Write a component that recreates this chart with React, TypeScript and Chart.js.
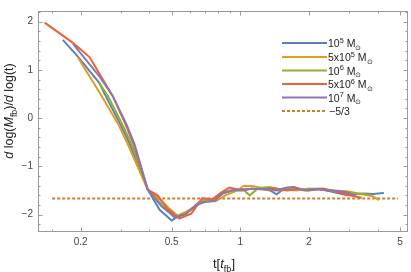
import React, { useEffect, useRef } from 'react';
import { Chart, registerables } from 'chart.js';

Chart.register(...registerables);

// ---------- data ----------
const seriesNames = ['10|5', '5x10|5', '10|6', '5x10|6', '10|7'];
const seriesColors = ['#5E81B5', '#E19C24', '#8FB032', '#EB6235', '#8778B3'];
const refColor = '#D07C2E';

const blueT = [0.167, 0.194, 0.242, 0.257, 0.299, 0.328, 0.393, 0.443, 0.5, 0.55, 0.6, 0.66, 0.74, 0.82, 0.9, 1.0, 1.1, 1.22, 1.35, 1.44, 1.55, 1.72, 1.95, 2.2, 2.5, 2.93, 3.2, 3.48, 3.8, 4.25];
const blueV = [1.62, 1.28, 0.72, 0.46, -0.14, -0.54, -1.48, -1.9, -2.12, -2.0, -1.92, -1.74, -1.72, -1.58, -1.5, -1.5, -1.47, -1.46, -1.5, -1.58, -1.47, -1.44, -1.5, -1.47, -1.52, -1.6, -1.58, -1.56, -1.57, -1.55];

const orangeT = [0.194, 0.247, 0.293, 0.321, 0.393, 0.44, 0.49, 0.53, 0.58, 0.64, 0.7, 0.78, 0.86, 0.95, 1.04, 1.15, 1.28, 1.4, 1.55, 1.75, 2.0, 2.3, 2.6, 3.0, 3.4, 3.8, 4.05];
const orangeV = [1.26, 0.46, -0.14, -0.54, -1.48, -1.66, -1.88, -2.02, -1.94, -1.82, -1.7, -1.72, -1.6, -1.52, -1.4, -1.41, -1.47, -1.5, -1.46, -1.5, -1.46, -1.48, -1.5, -1.52, -1.58, -1.62, -1.7];

const greenT = [0.24, 0.263, 0.305, 0.334, 0.393, 0.45, 0.51, 0.57, 0.63, 0.69, 0.76, 0.84, 0.93, 1.02, 1.1, 1.2, 1.35, 1.5, 1.7, 1.95, 2.2, 2.5, 2.9, 3.3, 3.6];
const greenV = [0.74, 0.46, -0.14, -0.54, -1.48, -1.78, -2.04, -2.0, -1.84, -1.7, -1.7, -1.56, -1.5, -1.47, -1.6, -1.45, -1.43, -1.5, -1.47, -1.48, -1.46, -1.5, -1.56, -1.56, -1.58];

const redT = [0.139, 0.185, 0.219, 0.276, 0.315, 0.341, 0.393, 0.434, 0.48, 0.54, 0.61, 0.68, 0.755, 0.82, 0.895, 1.02, 1.12, 1.25, 1.4, 1.6, 1.8, 2.0, 2.3, 2.6, 3.0, 3.4];
const redV = [1.98, 1.56, 1.26, 0.46, -0.14, -0.54, -1.48, -1.6, -1.88, -2.08, -1.98, -1.66, -1.68, -1.55, -1.44, -1.5, -1.46, -1.48, -1.45, -1.5, -1.47, -1.5, -1.46, -1.52, -1.6, -1.65];

const purpleT = [0.185, 0.242, 0.276, 0.318, 0.344, 0.393, 0.45, 0.52, 0.58, 0.64, 0.7, 0.77, 0.84, 0.92, 1.0, 1.1, 1.25, 1.45, 1.6, 1.72, 1.9, 2.1, 2.5, 2.9, 3.2];
const purpleV = [1.54, 0.86, 0.46, -0.14, -0.54, -1.48, -1.82, -2.06, -1.98, -1.8, -1.74, -1.72, -1.55, -1.5, -1.48, -1.47, -1.47, -1.5, -1.44, -1.43, -1.5, -1.47, -1.5, -1.53, -1.6];

const refT = [0.15, 4.9];
const refV = [-5 / 3, -5 / 3];

const xMajorTicks = [0.2, 0.5, 1, 2, 5];
const xMinorTicks = [0.15, 0.3, 0.4, 0.6, 0.7, 0.8, 0.9, 3, 4];
const yMajorTicks = [-2, -1, 0, 1, 2];
const yMinorTicks = [-2.2, -1.8, -1.6, -1.4, -1.2, -0.8, -0.6, -0.4, -0.2, 0.2, 0.4, 0.6, 0.8, 1.2, 1.4, 1.6, 1.8, 2.2];

const FAM = '"Liberation Sans", Arial, Helvetica, sans-serif';

type Seg = { t: string; it?: boolean; sub?: boolean; sup?: boolean };

function drawRich(ctx: CanvasRenderingContext2D, segs: Seg[], x: number, y: number, size: number, align: 'left' | 'center') {
  const fontFor = (s: Seg) => `${s.it ? 'italic ' : ''}${s.sub || s.sup ? size * 0.7 : size}px ${FAM}`;
  const widths = segs.map((s) => {
    ctx.font = fontFor(s);
    return ctx.measureText(s.t).width;
  });
  const total = widths.reduce((a, b) => a + b, 0);
  let cx = align === 'center' ? x - total / 2 : x;
  ctx.textBaseline = 'alphabetic';
  ctx.textAlign = 'left';
  segs.forEach((s, i) => {
    ctx.font = fontFor(s);
    const dy = s.sub ? size * 0.28 : s.sup ? -size * 0.42 : 0;
    ctx.fillText(s.t, cx, y + dy);
    cx += widths[i];
  });
}

const framePlugin = {
  id: 'frameTicks',
  beforeDatasetsDraw(chart: any) {
    const { ctx, chartArea: a, scales } = chart;
    const xs = scales.x;
    const ys = scales.y;
    ctx.save();
    ctx.strokeStyle = '#9a9a9a';
    ctx.lineWidth = 1;
    ctx.strokeRect(a.left + 0.5, a.top + 0.5, a.right - a.left - 1, a.bottom - a.top - 1);
    ctx.beginPath();
    const xt = (v: number, len: number) => {
      const px = Math.round(xs.getPixelForValue(v)) + 0.5;
      ctx.moveTo(px, a.bottom);
      ctx.lineTo(px, a.bottom - len);
      ctx.moveTo(px, a.top);
      ctx.lineTo(px, a.top + len);
    };
    const yt = (v: number, len: number) => {
      const py = Math.round(ys.getPixelForValue(v)) + 0.5;
      ctx.moveTo(a.left, py);
      ctx.lineTo(a.left + len, py);
      ctx.moveTo(a.right, py);
      ctx.lineTo(a.right - len, py);
    };
    xMajorTicks.forEach((v) => xt(v, 4.5));
    xMinorTicks.forEach((v) => xt(v, 2.5));
    yMajorTicks.forEach((v) => yt(v, 4.5));
    yMinorTicks.forEach((v) => yt(v, 2.5));
    ctx.stroke();
    ctx.restore();
  },
  afterDraw(chart: any) {
    const { ctx } = chart;
    ctx.save();
    ctx.fillStyle = '#222';
    // x title
    drawRich(ctx, [{ t: 't[' }, { t: 't', it: true }, { t: 'fb', sub: true }, { t: ']' }], 224, 268, 13, 'center');
    // y title
    ctx.save();
    ctx.translate(13, 111);
    ctx.rotate(-Math.PI / 2);
    drawRich(
      ctx,
      [{ t: 'd', it: true }, { t: ' log(' }, { t: 'M', it: true }, { t: 'fb', sub: true }, { t: ')/' }, { t: 'd', it: true }, { t: ' log(t)' }],
      0,
      0,
      12.5,
      'center'
    );
    ctx.restore();
    // legend
    const rows = [43, 57, 70.5, 84, 97.5, 111];
    const lx0 = 282;
    const lx1 = 327;
    seriesNames.forEach((nm, i) => {
      const y = rows[i];
      ctx.strokeStyle = seriesColors[i];
      ctx.lineWidth = 2;
      ctx.setLineDash([]);
      ctx.beginPath();
      ctx.moveTo(lx0, y);
      ctx.lineTo(lx1, y);
      ctx.stroke();
      const [base, exp] = nm.split('|');
      ctx.fillStyle = '#222';
      drawRich(ctx, [{ t: base }, { t: exp, sup: true }, { t: ' M' }, { t: '\u2299', sub: true }], lx1 + 1, y + 4, 10.5, 'left');
    });
    const y = rows[5];
    ctx.strokeStyle = refColor;
    ctx.lineWidth = 2;
    ctx.setLineDash([3, 2]);
    ctx.beginPath();
    ctx.moveTo(lx0, y);
    ctx.lineTo(lx1, y);
    ctx.stroke();
    ctx.setLineDash([]);
    ctx.fillStyle = '#222';
    drawRich(ctx, [{ t: '\u22125/3' }], lx1 + 2, y + 4, 10.5, 'left');
    ctx.restore();
  },
};

function mk(t: number[], v: number[]) {
  return t.map((x, i) => ({ x, y: v[i] }));
}

export default function App() {
  const ref = useRef<HTMLCanvasElement | null>(null);
  useEffect(() => {
    document.body.style.margin = '0';
    const canvas = ref.current!;
    const pairs = [
      [blueT, blueV],
      [orangeT, orangeV],
      [greenT, greenV],
      [redT, redV],
      [purpleT, purpleV],
    ];
    const datasets: any[] = pairs.map((p, i) => ({
      label: seriesNames[i],
      data: mk(p[0], p[1]),
      borderColor: seriesColors[i],
      backgroundColor: seriesColors[i],
      borderWidth: 2,
      pointRadius: 0,
      tension: 0,
      fill: false,
      order: 4 - i,
    }));
    datasets.push({
      label: '-5/3',
      data: mk(refT, refV),
      borderColor: refColor,
      borderWidth: 2,
      borderDash: [3, 2],
      pointRadius: 0,
      fill: false,
      order: 10,
    });
    const chart = new Chart(canvas, {
      type: 'line',
      data: { datasets },
      plugins: [framePlugin],
      options: {
        animation: false,
        responsive: false,
        layout: { padding: { top: 3, right: 3, left: 0, bottom: 0 } },
        plugins: { legend: { display: false }, tooltip: { enabled: false } },
        scales: {
          x: {
            type: 'logarithmic',
            min: 0.13,
            max: 5.42,
            grid: { display: false, drawTicks: false },
            border: { display: false },
            afterBuildTicks: (s: any) => {
              s.ticks = [...xMajorTicks].map((v) => ({ value: v }));
            },
            afterFit: (s: any) => {
              s.height = 40;
            },
            ticks: {
              autoSkip: false,
              maxRotation: 0,
              minRotation: 0,
              padding: 4,
              color: '#444',
              font: { family: FAM, size: 10 },
              callback: (v: any) => String(v),
            },
          },
          y: {
            type: 'linear',
            min: -2.36,
            max: 2.22,
            grid: { display: false, drawTicks: false },
            border: { display: false },
            afterBuildTicks: (s: any) => {
              s.ticks = yMajorTicks.map((v) => ({ value: v }));
            },
            afterFit: (s: any) => {
              s.width = 38;
            },
            ticks: {
              padding: 5,
              color: '#444',
              font: { family: FAM, size: 10 },
              callback: (v: any) => (Number(v) < 0 ? '\u2212' + Math.abs(Number(v)) : String(v)),
            },
          },
        },
      },
    });
    return () => chart.destroy();
  }, []);
  return <canvas ref={ref} width={411} height={272} style={{ display: 'block' }} />;
}
